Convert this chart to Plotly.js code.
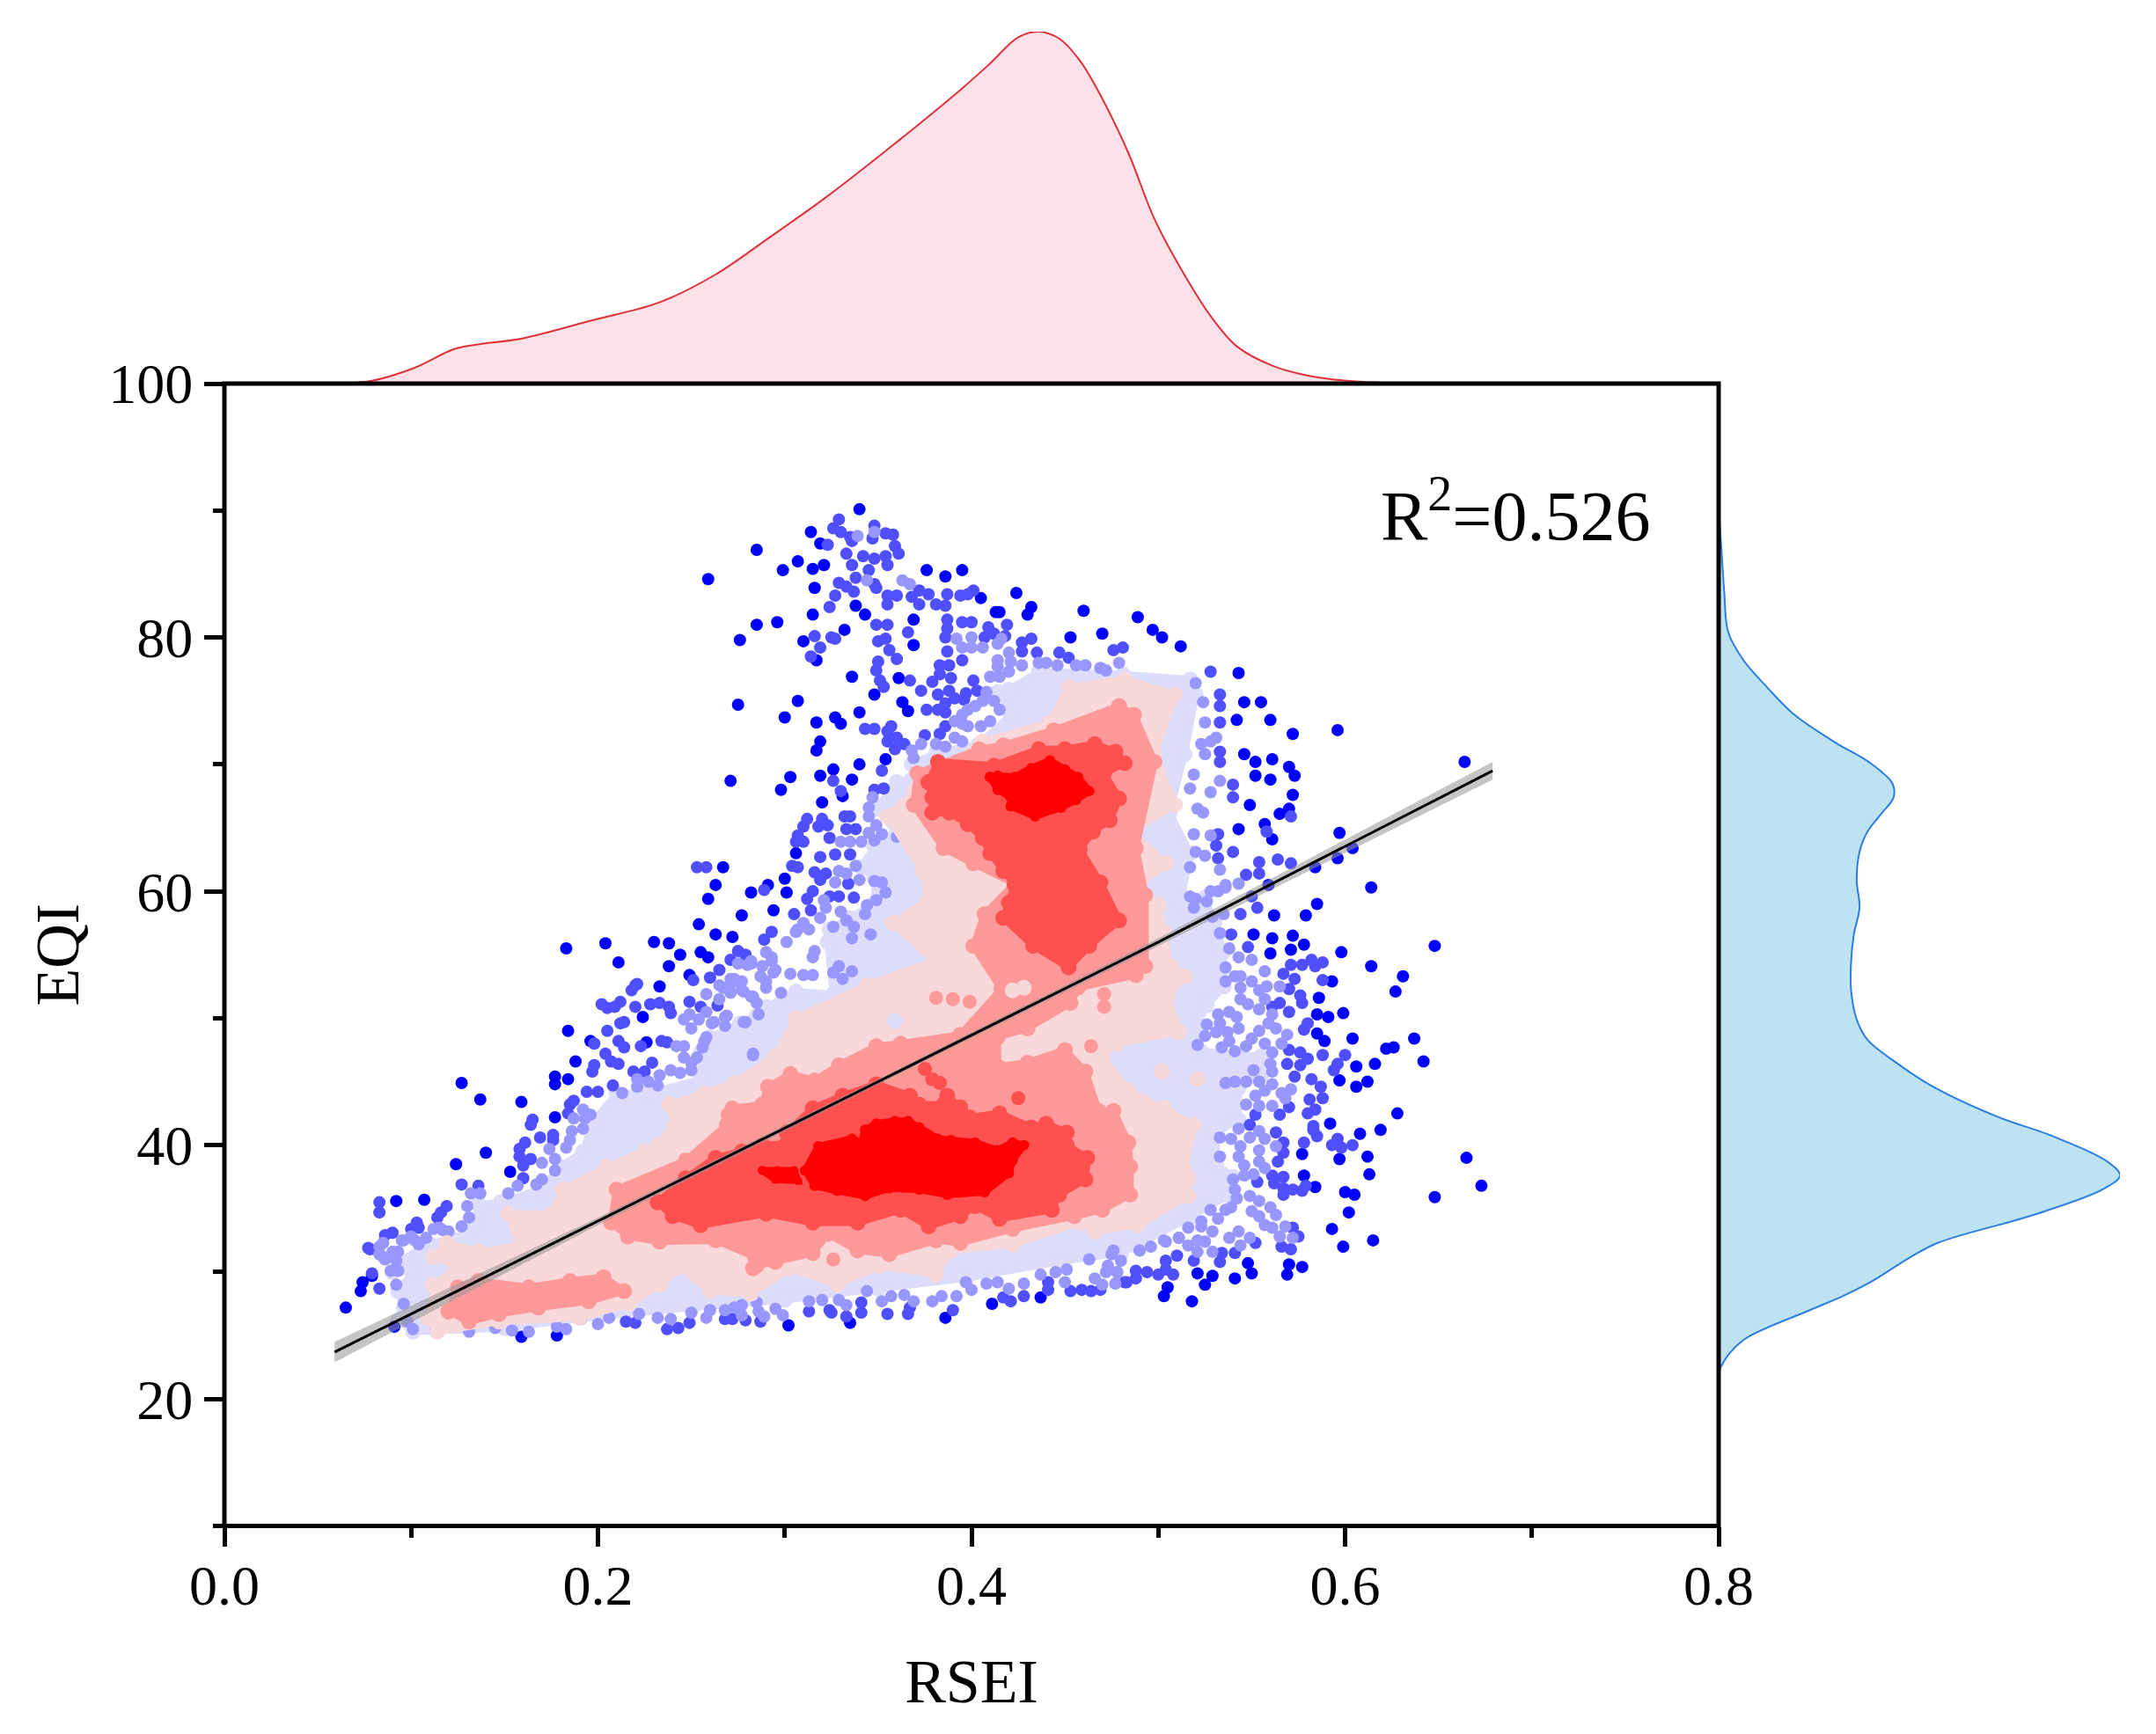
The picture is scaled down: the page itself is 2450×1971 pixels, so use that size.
<!DOCTYPE html>
<html><head><meta charset="utf-8">
<script src="https://cdn.plot.ly/plotly-3.0.0.min.js"></script>
<style>html,body{margin:0;padding:0;background:#fff}</style></head>
<body><div id="chart" style="width:2450px;height:1971px"></div>
<script>
// Tick values
const xTicks=[0,0.2,0.4,0.6,0.8], xMinor=[0.1,0.3,0.5,0.7];
const yTicks=[20,40,60,80,100], yMinor=[10,30,50,70,90];

// Individual sparse points [RSEI, EQI], density level 1 (lowest)
const level1=[[.340,90.1],[.314,88.3],[.285,86.9],[.319,87.4],[.259,84.6],[.299,85.3],[.307,86.0],[.315,85.4],[.321,85.7],[.316,83.9],[.376,85.3],[.386,84.8],[.395,85.3],[.405,83.1],[.424,83.5],[.432,82.4],[.430,81.8],[.413,82.0],[.415,82.0],[.460,82.1],[.453,80.0],[.470,80.3],[.338,82.5],[.343,81.8],[.315,81.8],[.296,81.2],[.285,81.0],[.276,79.8],[.310,79.7],[.332,80.6],[.369,81.4],[.369,79.4],[.317,78.2],[.336,76.9],[.361,76.8],[.348,75.5],[.363,74.9],[.366,74.2],[.275,74.7],[.307,75.0],[.300,73.7],[.317,73.3],[.327,73.7],[.330,73.2],[.340,74.1],[.319,71.8],[.317,71.1],[.354,70.4],[.340,70.0],[.326,69.6],[.319,69.1],[.303,69.0],[.271,68.7],[.298,68.0],[.336,68.8],[.331,67.5],[.320,67.0],[.306,63.0],[.267,61.9],[.300,61.0],[.291,60.5],[.263,60.5],[.282,59.9],[.301,59.9],[.259,59.4],[.294,58.5],[.277,58.1],[.254,57.4],
[.183,55.5],[.204,55.9],[.211,54.4],[.230,56.0],[.238,55.9],[.244,55.0],[.238,54.1],[.263,56.6],[.272,56.4],[.255,55.2],[.259,54.8],[.249,53.4],[.233,52.5],[.224,50.1],[.184,49.0],[.196,48.2],[.226,48.1],[.188,46.6],[.177,45.4],[.177,44.8],[.184,45.2],[.127,44.9],[.137,43.6],[.159,43.4],[.177,42.2],[.140,39.4],[.124,38.5],[.153,37.9],[.092,35.6],[.107,35.7],
[.614,60.3],[.585,59.0],[.579,58.1],[.562,58.1],[.559,60.5],[.551,56.6],[.561,56.3],[.572,56.5],[.578,55.8],[.571,55.4],[.560,55.1],[.598,55.2],[.648,55.7],[.614,54.1],[.631,53.3],[.593,52.9],[.627,52.1],[.586,51.6],[.585,50.3],[.591,50.1],[.599,50.4],[.585,48.8],[.589,48.2],[.604,48.4],[.637,48.4],[.622,47.6],[.626,47.7],[.642,46.6],[.606,46.2],[.616,46.4],[.597,45.1],[.612,45.0],[.606,44.6],[.628,42.5],[.592,41.7],[.619,41.2],[.608,40.9],[.577,39.3],[.612,39.1],[.597,38.9],[.665,39.0],[.613,37.7],[.578,37.6],[.584,36.7],[.600,36.3],[.605,36.1],[.673,36.8],[.648,35.9],[.602,34.7],[.593,33.4],[.615,32.5],[.599,32.0],[.577,30.4],[.570,30.6],[.569,29.8],[.550,29.9],[.548,30.7],[.541,29.5],[.529,29.7],[.521,29.9],[.525,29.0],[.505,28.8],[.503,28.1],[.518,27.7],
[.302,25.8],[.335,26.0],[.386,26.4],[.411,27.5],[.437,28.0],[.065,27.2],[.091,25.7],[.073,28.5],[.074,29.2],[.079,29.7],[.178,25.0],[.159,24.9],
[.546,74.9],[.555,74.9],[.542,73.5],[.560,73.5],[.572,72.4],[.596,72.7],[.546,70.8],[.552,70.2],[.561,70.4],[.570,69.8],[.573,69.1],[.552,69.1],[.560,68.8],[.572,67.6],[.549,66.8],[.570,66.5],[.565,66.1],[.557,65.3],[.543,64.9],[.561,64.1],[.597,64.6],[.604,63.4],[.596,62.6],[.584,61.9],[.664,70.2],[.543,77.2],[.512,79.3],[.502,80.0],[.497,80.6],[.489,81.6]];

// Density level 2
const level2=[[.329,89.3],[.326,88.6],[.330,88.3],[.348,88.8],[.336,87.6],[.335,87.9],[.347,87.8],[.354,88.2],[.358,88.1],[.323,87.3],[.359,87.2],[.361,86.6],[.342,86.4],[.348,86.2],[.354,86.4],[.355,85.7],[.333,86.6],[.336,85.7],[.345,85.3],[.338,84.7],[.329,84.3],[.333,84.0],[.337,83.6],[.327,83.3],[.324,82.4],[.348,84.2],[.349,83.9],[.355,83.3],[.360,83.3],[.355,82.6],[.368,83.2],[.372,83.7],[.372,82.6],[.377,83.4],[.381,82.6],[.386,82.5],[.387,83.4],[.394,83.3],[.398,83.4],[.401,83.7],[.349,81],[.355,81],[.350,79.7],[.354,79.9],[.366,80.4],[.387,81.4],[.387,80.7],[.386,80],[.395,81.2],[.400,81.2],[.409,80.8],[.407,80],[.412,80.3],[.419,81],[.418,80.1],[.387,78.9],[.395,78.2],[.356,79],[.360,78.3],[.350,78.1],[.349,77.4],[.351,76.6],[.353,76.1],[.383,77.8],[.388,77.8],[.383,77.1],[.379,76.5],[.373,75.8],[.389,76.8],[.367,76.6],[.401,76.6],[.403,75.8],[.382,75.5],[.388,75.8],[.386,74.8],[.397,75.6],[.396,75.1],[.391,75.2],[.376,74.3],[.382,74.3],[.386,74.1],[.386,73],[.383,72.4],[.375,72.3],[.357,73],[.355,72.6],[.348,72.8],[.343,72.8],[.355,71.8],[.360,72.1],[.364,71.6],[.359,71.2],[.316,80.1],[.319,79.2],[.314,78.5],[.325,80],[.327,79.9],[.427,79.6],[.432,79.9],[.427,78.9],[.435,78.8],[.447,78.8],[.452,78.4],[.476,79],[.481,79.2],[.352,69.5],[.348,68],[.353,68.1],[.326,68.7],[.330,67.9],[.312,65.7],[.310,65.1],[.320,65.7],[.318,65.1],[.323,65.2],[.307,64.4],[.306,63.9],[.310,63.9],[.324,64.2],[.332,65.9],[.335,65.9],[.333,64.9],[.338,64.9],[.319,62.7],[.327,62.9],[.335,62.9],[.253,61.9],[.258,61.9],[.304,62],[.307,61.9],[.316,61.5],[.322,61.4],[.319,60.9],[.289,60.1],[.315,60],[.312,59.4],[.324,59.6],[.329,59.6],[.337,59.5],[.314,58.5],[.305,58.2],[.334,60.6],
[.220,52.6],[.218,52.2],[.221,52.7],[.202,51.1],[.205,50.8],[.209,50.9],[.212,51.3],[.220,50.9],[.228,51.1],[.233,51.2],[.238,50.9],[.239,50.4],[.249,51.3],[.255,50.9],[.264,51],[.214,49.7],[.212,49.6],[.205,49],[.198,48],[.211,48.2],[.214,47.7],[.223,47.8],[.234,48.2],[.237,48.1],[.204,47.2],[.207,46.6],[.211,46.4],[.198,46.3],[.197,45.8],[.229,46.5],[.219,45.8],[.225,45.8],[.208,44.7],[.194,44.2],[.200,44.2],[.187,43.5],[.185,43.2],[.184,42.5],[.165,42],[.164,41.6],[.176,40.8],[.176,40.4],[.169,40.6],[.161,40.2],[.158,39.7],[.158,39.1],[.164,38.9],[.160,38.4],[.160,37.4],[.127,36.9],[.136,36.8],[.083,35.5],[.083,34.7],[.119,35.2],[.116,34.7],[.114,34.3],[.103,33.9],[.104,33.5],[.100,33.4],[.090,33.1],[.086,32.9],[.077,31.9],[.079,29.9],[.289,56.2],[.293,56.8],[.271,54.6],[.275,55.3],[.279,55],[.251,53],[.260,53.2],[.265,53.8],
[.553,58.7],[.544,58.2],[.550,59.6],[.539,56.6],[.548,55.6],[.571,54.2],[.567,53.5],[.573,53.1],[.577,54.2],[.582,54.6],[.584,54.1],[.588,54.4],[.588,53],[.570,52.3],[.576,51.8],[.577,51.2],[.565,51.2],[.561,50.9],[.570,50.5],[.580,49.6],[.578,49.1],[.570,47.5],[.576,47.3],[.580,46.8],[.576,46.3],[.569,46.4],[.588,47.1],[.600,47.1],[.596,46.4],[.594,45.9],[.573,45.4],[.582,45.2],[.587,44.6],[.588,43.7],[.581,43.6],[.584,42.8],[.580,42.5],[.570,43],[.565,42.4],[.552,42.4],[.549,41.6],[.563,41],[.583,41.5],[.583,41.2],[.585,40.7],[.578,40.2],[.567,40.2],[.567,39.4],[.596,40.5],[.593,40],[.598,39.8],[.604,40],[.564,38.7],[.567,37.5],[.561,37.6],[.562,37],[.553,37.1],[.579,36.8],[.577,36.4],[.572,36.5],[.567,36.6],[.567,36.1],[.572,33.5],[.575,32.8],[.552,32.3],[.566,32],[.571,31.8],[.541,31.5],[.534,31.5],[.533,30.8],[.519,30.9],[.510,31.3],[.504,30.9],[.504,30.2],[.508,29.8],[.500,29.8],[.494,30],[.488,30.1],[.488,29.5],[.483,29.2],
[.268,26.3],[.272,26.3],[.279,26.2],[.287,26.1],[.313,26.9],[.324,27],[.325,26.8],[.333,26.5],[.341,26.8],[.355,26.7],[.366,26.7],[.367,27.2],[.341,27.6],[.390,27],[.417,28],[.421,27.7],[.428,28.1],[.441,29.2],[.441,28.6],[.453,28.5],[.459,28.6],[.464,28.5],[.469,28.6],[.482,29.2],[.237,25.5],[.243,25.6],[.249,26],[.215,26.1],[.220,26],[.083,28.7],[.078,31.8],
[.533,75.5],[.533,74.6],[.533,73.3],[.533,71],[.533,70.2],[.540,68.4],[.540,67.4],[.532,64.5],[.531,63.6],[.540,63.1],[.532,62.6],[.554,62.3],[.564,62.5],[.571,62.2],[.571,65.9],[.558,64.7],[.547,61.3],[.554,61.4],[.528,77.3]];

// Density level 3
const level3=[[.339,88.0],[.348,88.3],[.344,84.5],[.363,84.5],[.367,84.2],[.392,79.9],[.400,80],[.395,79.2],[.400,79.2],[.406,79.2],[.414,79.5],[.416,79.9],[.420,78.8],[.414,78.2],[.414,77.7],[.421,78.1],[.420,77.3],[.415,76.9],[.410,76.9],[.427,77.8],[.436,78],[.440,78],[.446,77.8],[.456,77.8],[.461,77.8],[.469,77.6],[.472,77.4],[.479,78],[.408,75.7],[.406,75],[.412,75],[.415,74.3],[.410,73.4],[.405,73],[.395,73.9],[.398,74.3],[.402,74.6],[.395,73.2],[.398,73],[.391,73.4],[.391,72.1],[.395,71.8],[.381,71.6],[.386,71.4],[.373,71.6],[.368,71.1],[.369,70.5],[.347,67.4],[.345,66.6],[.345,65.9],[.349,65.2],[.352,64.5],[.348,64],[.341,63.9],[.335,63.9],[.330,63.9],[.345,64.6],[.360,64.3],[.338,62],[.329,61.6],[.327,60.7],[.333,61.4],[.340,60.9],[.348,60.8],[.352,60.7],[.354,59.9],[.349,59.3],[.344,58.9],[.343,58.2],[.321,59.3],[.322,58.7],[.330,58.4],[.333,57.7],[.319,57.9],[.310,57.5],[.307,57],[.337,57.2],[.326,57.2],
[.192,42.8],[.196,42.4],[.193,42.1],[.187,42.1],[.192,41.3],[.186,41.1],[.185,40.4],[.183,39.8],[.174,39.7],[.177,38.9],[.170,38.6],[.177,38],[.170,37.3],[.167,36.9],[.157,36.8],[.152,36.2],[.137,36.2],[.132,36.2],[.130,35.2],[.131,34.3],[.127,33.6],[.120,33.2],[.115,33.5],[.108,32.7],[.104,32.2],[.100,32.8],[.095,32.5],[.085,32.3],[.083,31.4],[.090,31.6],[.093,31.6],[.086,31],[.092,30.9],[.089,30.1],[.246,49.9],[.249,50.3],[.254,49.9],[.250,49.2],[.258,50.5],[.261,49.6],[.268,49.4],[.269,50.2],[.257,48.2],[.256,47.7],[.242,47.8],[.246,47.8],[.246,46.9],[.250,46.5],[.253,46.9],[.239,45.9],[.244,45.7],[.250,45.9],[.221,45.2],[.221,44.6],[.227,45],[.232,44.7],[.233,45.5],[.213,44.1],[.258,51.9],[.265,52.6],[.271,53.1],[.277,52.9],[.271,52],[.277,52.2],[.282,51.7],[.285,51.2],[.265,51.5],[.280,54.2],[.282,54.5],[.290,52.4],[.287,53.3],[.293,54.5],[.290,55.2],[.294,53.6],[.286,50.3],[.279,49.7],[.283,47.1],
[.275,54.3],[.282,54.3],[.272,52.8],[.278,52.1],[.283,51.7],[.290,52.9],[.288,54.1],[.293,54.8],[.295,53.8],[.298,52],[.303,53.5],[.310,53.4],[.315,53.4],[.316,55.3],[.315,54.8],[.301,56],[.306,56.8],[.313,57],[.329,54.1],[.336,53.7],[.326,53.6],[.331,53.1],[.336,56.3],[.346,56.6],[.273,53.1],[.267,52.4],[.262,49.7],[.268,50.1],[.278,49.7],[.258,48.5],
[.260,27],[.258,26.4],[.268,27],[.273,27.2],[.277,27.4],[.277,26.6],[.285,27.6],[.286,26.9],[.289,26.5],[.295,27.1],[.299,26.6],[.313,27.7],[.320,27.8],[.329,27.8],[.333,27.4],[.344,28.5],[.352,27.7],[.357,28.1],[.364,28.2],[.369,27.7],[.379,27.7],[.384,28.1],[.392,28.1],[.397,29.2],[.400,28.6],[.408,29.1],[.414,29.2],[.420,28.7],[.428,29.1],[.437,29.8],[.445,30],[.451,30.2],[.450,29.2],[.463,31],[.466,29.5],[.473,30.5],[.476,31.7],[.478,30],[.490,31.7],[.503,32.5],[.511,32.7],
[.517,59.6],[.519,58.7],[.526,59.2],[.532,60],[.536,60.5],[.535,58.2],[.529,58],[.533,56.7],[.538,55.5],[.543,54.8],[.550,54.6],[.536,54],[.541,53.3],[.544,53.3],[.557,53.7],[.550,52.9],[.536,52.9],[.544,52.4],[.554,52.2],[.558,52.5],[.565,52.5],[.557,51.5],[.544,51.5],[.548,51.1],[.554,50.7],[.561,50.3],[.559,49.6],[.563,49.2],[.569,48.7],[.566,48],[.532,50.3],[.538,50.5],[.542,50.1],[.533,49.6],[.543,49.2],[.526,49.5],[.531,48.9],[.537,48.9],[.525,48.6],[.521,47.9],[.538,48.2],[.534,47.7],[.541,47.4],[.554,49],[.550,48.4],[.547,47.8],[.557,48],[.561,47.3],[.560,46.4],[.561,45.8],[.536,44.9],[.541,45],[.547,45],[.551,45.9],[.554,45],[.561,44.8],[.552,43.9],[.557,44.3],[.566,44.1],[.571,44.4],[.547,43.2],[.554,43.1],[.561,43.1],[.568,43.7],[.543,41.3],[.539,40.5],[.533,40.6],[.549,40.6],[.554,41.1],[.557,40.5],[.544,39.9],[.554,39.6],[.563,39.9],[.533,39.1],[.543,39.1],[.554,38.7],[.546,38.4],[.557,38.2],[.546,37.6],[.551,37.7],[.540,37.3],[.541,36.5],[.542,35.8],[.539,35.1],[.549,36],[.554,35.6],[.550,34.8],[.554,34.4],[.560,35.1],[.563,34.5],[.557,33.7],[.561,33.5],[.568,33.6],[.565,32.8],[.572,32.7],[.549,32.7],[.543,33.2],[.538,32.7],[.544,32.1],[.528,34.9],[.532,34.2],[.523,34],[.536,34.9],[.529,33.2],[.523,33.6],[.516,33.5],[.521,32.5],[.525,32.4],[.511,32.7],[.504,32.4],[.496,32],[.490,31.7],[.516,32.1],[.521,31.6],[.529,31.6],[.475,31.4],[.480,30.9],[.472,30],[.478,30],[.477,29.1],[.470,29],
[.520,76.4],[.524,74.9],[.525,73.3],[.528,71.8],[.523,71.6],[.531,72.1],[.519,69.2],[.525,70.8],[.517,68.1],[.528,67.8],[.533,68.7],[.521,66.5],[.524,66.2],[.519,64.5],[.528,64.4],[.520,63.1],[.525,62.8],[.533,61.7],[.517,61.9],[.520,59.4],[.528,60],[.536,60.3],[.543,60.6],
[.083,32],[.090,31.4],[.093,30.1],[.092,29],[.096,27.5],[.098,26.1],[.101,25.5],[.113,25.3],[.131,25.3],[.145,25.6],[.154,25.4],[.163,25.3],[.178,25.7],[.183,25.5],[.191,26.3],[.200,25.9],[.206,26.4],[.222,26.7],[.232,26.4],[.239,26.3],[.250,26.8],[.117,33.3],[.112,33.4],[.102,32.5],[.096,32.5],[.085,31.2]];

// Density bands: outlines [RSEI, EQI]
const band4=[[.093,26.2],[.101,25.3],[.15,25.6],[.20,26.5],[.25,27.2],[.30,27.8],[.35,28.7],[.397,29.5],[.447,30.8],[.48,31.5],[.488,32.1],[.516,34.2],[.526,35.2],[.538,36],[.540,37.5],[.531,38.5],[.531,41],[.543,42],[.543,44.5],[.555,45.5],[.555,47],[.523,47.4],[.521,49.5],[.526,51],[.535,52.5],[.535,55.2],[.530,57.5],[.525,59.5],[.512,59.1],[.517,63],[.506,66.2],[.514,70.8],[.520,75.5],[.517,76.7],[.481,77.1],[.436,77.3],[.420,75.9],[.414,75.7],[.421,73.9],[.404,71.6],[.381,70.9],[.368,70],[.368,68.8],[.360,68.6],[.349,66.5],[.360,64.6],[.348,63.5],[.341,61.9],[.348,61],[.348,59.1],[.335,57.9],[.324,57],[.323,56],[.326,51.9],[.306,52.1],[.290,50.9],[.285,50.2],[.276,49.6],[.260,48.5],[.255,47.3],[.255,45.2],[.227,44.1],[.210,44.1],[.197,41.8],[.192,39.5],[.180,38.3],[.169,36.5],[.148,35.5],[.136,35.3],[.134,33.5],[.122,32.6],[.109,32.3],[.095,30.9],[.090,30],[.101,30.1],[.093,28.5],[.096,27.2]];
const band5=[[.109,26.4],[.114,25.3],[.147,26.1],[.190,26.4],[.217,27.5],[.233,29],[.244,30.4],[.260,28.5],[.282,28.3],[.303,30.3],[.328,29],[.351,30.5],[.381,29.8],[.389,31.7],[.422,32.2],[.458,33.9],[.466,33.2],[.489,33.7],[.516,36],[.516,37.4],[.514,38.1],[.519,41.6],[.503,42.9],[.484,44.3],[.470,47],[.478,48],[.511,48.9],[.505,51.7],[.514,53.3],[.506,54.2],[.503,56.8],[.500,58.9],[.488,60.3],[.504,62.2],[.485,64.7],[.509,66.8],[.498,70.8],[.509,75.5],[.482,76.7],[.452,76.1],[.442,73.3],[.406,71.8],[.369,67.8],[.355,65.9],[.374,61.6],[.377,59.4],[.358,57.5],[.380,54.5],[.344,52.6],[.306,50],[.295,47],[.273,44.9],[.257,44.1],[.238,43.2],[.241,41.6],[.232,40],[.225,39.5],[.205,38.3],[.181,36.5],[.175,34.6],[.152,34.6],[.158,32.1],[.136,31.6],[.119,32.3],[.112,31.2],[.125,30.4],[.112,29]];
const band6=[[.270,42.4],[.269,41.6],[.247,38.8],[.210,36.5],[.207,33.9],[.216,32.8],[.233,32.4],[.263,32.5],[.284,31.2],[.283,30.3],[.285,30.5],[.295,30.8],[.315,31.5],[.323,33],[.339,31.7],[.356,31.4],[.381,32.5],[.394,32.3],[.422,33.4],[.455,34.4],[.470,34.9],[.485,36.1],[.485,38.3],[.484,40.2],[.476,42.7],[.468,42.7],[.461,45.8],[.450,47.5],[.430,46.5],[.414,46.2],[.414,48.5],[.430,49.2],[.453,51.2],[.457,52.4],[.488,53.4],[.493,54.1],[.493,59.7],[.488,63.4],[.498,70.2],[.487,73.9],[.479,74.6],[.444,72.7],[.417,71.5],[.404,71.2],[.371,69.3],[.369,66.8],[.385,63.4],[.401,62.2],[.423,60.6],[.407,58.2],[.401,55.7],[.416,52.3],[.394,48.7],[.362,48],[.349,47.8],[.329,46.3],[.316,45.1],[.303,45.6],[.291,44.6],[.288,43.2],[.272,42.9]];
const band6Tail=[[.120,26.9],[.125,28.8],[.136,29.3],[.163,28.8],[.185,29.3],[.203,29.6],[.214,28.5],[.195,27.7],[.168,27.2],[.147,26.7],[.131,26.1]];
const band7=[[.232,35.5],[.240,34.4],[.255,33.7],[.290,34.6],[.315,33.9],[.339,33.9],[.362,34.9],[.377,33.6],[.394,34.4],[.402,35.2],[.415,34.2],[.443,34.9],[.447,36.1],[.461,37.3],[.462,39],[.451,40],[.451,41],[.440,41.7],[.432,41.4],[.415,42.5],[.399,42.2],[.394,43],[.387,43.9],[.385,43.2],[.372,43.2],[.367,43.9],[.349,44.8],[.331,43.9],[.315,42.9],[.301,41],[.301,40.1],[.288,40],[.277,39.5],[.263,39],[.247,37.4]];
const band7Upper=[[.377,68.6],[.379,67.4],[.379,66.2],[.388,66.2],[.398,65.3],[.406,64.2],[.410,63],[.417,61.6],[.423,60.5],[.420,59.1],[.417,57.9],[.433,55.7],[.452,54],[.463,55.7],[.479,57.7],[.469,60.7],[.458,63.3],[.465,64.7],[.474,65.6],[.479,67.3],[.471,69.3],[.482,70.1],[.477,71],[.466,71.6],[.450,71.2],[.436,71.2],[.412,69.9],[.382,70.2]];
const band8=[[.311,38],[.316,36.8],[.328,36.4],[.343,36],[.356,36.6],[.372,36.5],[.387,36.1],[.407,36.3],[.420,37.8],[.422,38.8],[.428,40],[.422,40.2],[.414,39.6],[.402,40.2],[.389,40.4],[.382,40.5],[.372,41.4],[.366,41.9],[.359,41.9],[.349,41.7],[.343,41.2],[.341,40.2],[.336,40.5],[.318,39.9]];
const band8Small=[[.288,38],[.296,38],[.305,38],[.307,37.2],[.295,37.3]];
const band8Upper=[[.410,69],[.414,68],[.421,67.4],[.421,66.7],[.434,65.9],[.448,66.6],[.456,67.2],[.463,67.9],[.457,69],[.450,69.6],[.442,70.3],[.432,69.7],[.423,69],[.414,69.1]];
const spots3=[[.283,47.2]];
const spots4=[[.359,49.8]];
const spots5=[[.521,45.2],[.502,45.8],[.422,52.2],[.428,52.4]];
const spots6=[[.326,31],[.381,51.6],[.390,51.5],[.399,51.3],[.471,51.9],[.471,50.9],[.464,47.8]];
const spots7=[[.425,43.7],[.375,46],[.379,45.2],[.383,44.9]];

// Regression
const fitX=[0.059,0.20,0.35,0.50,0.679];
const fitY=[23.7,34.0,45.0,56.0,69.5];
const fitHi=[24.5,34.3,45.2,56.3,70.2];
const fitLo=[22.9,33.7,44.8,55.7,68.8];
const r2Label='R<sup>2</sup>=0.526';

// Marginal densities (relative)
const topX=[.060,.079,.101,.123,.134,.160,.197,.233,.263,.292,.322,.358,.395,.410,.425,.436,.447,.458,.469,.484,.498,.513,.528,.542,.561,.579,.601,.638];
const topD=[0,.008,.043,.098,.110,.129,.180,.231,.310,.416,.529,.678,.839,.910,.984,1.0,.980,.918,.820,.655,.467,.318,.192,.106,.051,.024,.008,0];
const rightY=[90.1,86.9,83.6,80.4,78.2,76.1,73.9,71.7,70.1,68.5,67.4,66.1,64.7,63.1,60.9,58.7,56.6,54.4,52.2,49.9,48.3,46.4,44.7,42.2,40.8,38.7,37.6,36.5,34.5,32.3,31.1,29.2,28.1,27,24.8,23.6,22.2];
const rightD=[0,.007,.014,.024,.062,.120,.189,.292,.378,.433,.436,.405,.371,.351,.344,.351,.337,.330,.330,.344,.371,.447,.529,.698,.825,.969,1,.956,.784,.546,.474,.378,.309,.227,.069,.027,0];

const C={l1:'#0000ff',l2:'#4f4fff',l3:'#9797ff',l4:'#dcdcfb',l5:'#f8d8d8',l6:'#ff9999',l7:'#ff5050',l8:'#ff0000'};
const xs=a=>a.map(p=>p[0]), ys=a=>a.map(p=>p[1]);
const dots=(a,c,s)=>({type:'scatter',mode:'markers',x:xs(a),y:ys(a),marker:{size:s||14,color:c,line:{width:0}},hoverinfo:'skip'});
const poly=(a,c,s)=>({type:'scatter',mode:'lines+markers',x:xs(a).concat(a[0][0]),y:ys(a).concat(a[0][1]),fill:'toself',fillcolor:c,line:{color:c,width:8,shape:'linear'},marker:{size:s||18,color:c,line:{width:0}},hoverinfo:'skip'});

const traces=[
 poly(band4,C.l4),
 dots(level1,C.l1),dots(level2,C.l2),dots(level3,C.l3),dots(spots3,C.l3),
 poly(band5,C.l5),dots(spots4,C.l4,18),
 poly(band6,C.l6),poly(band6Tail,C.l6),dots(spots5,C.l5,18),dots(spots6,C.l6,16),
 poly(band7,C.l7),poly(band7Upper,C.l7),dots(spots7,C.l7,16),
 poly(band8,C.l8,12),poly(band8Small,C.l8,10),poly(band8Upper,C.l8,12),
 {type:'scatter',mode:'lines',x:fitX.concat(fitX.slice().reverse()),y:fitHi.concat(fitLo.slice().reverse()),fill:'toself',fillcolor:'rgba(150,150,150,0.55)',line:{width:0},hoverinfo:'skip'},
 {type:'scatter',mode:'lines',x:fitX,y:fitY,line:{color:'#000',width:3},hoverinfo:'skip'},
 {type:'scatter',mode:'lines',x:topX,y:topD,xaxis:'x',yaxis:'y2',fill:'tozeroy',fillcolor:'#fce2e8',line:{color:'#e0303a',width:2,shape:'spline'},hoverinfo:'skip'},
 {type:'scatter',mode:'lines',x:rightD,y:rightY,xaxis:'x2',yaxis:'y',fill:'tozerox',fillcolor:'#bde3f2',line:{color:'#2b7de0',width:2,shape:'spline'},hoverinfo:'skip'}
];

const W=2450,H=1971;
const font={family:'"Liberation Serif",serif',color:'#000'};
const axisBase={showgrid:false,zeroline:false,showline:false,ticks:'outside',ticklen:22,tickwidth:5,tickcolor:'#000',layer:'above traces',tickfont:Object.assign({size:64},font)};
const layout={
 width:W,height:H,margin:{l:0,r:0,t:0,b:0},paper_bgcolor:'#fff',plot_bgcolor:'rgba(0,0,0,0)',showlegend:false,font:font,
 xaxis:Object.assign({},axisBase,{domain:[255/W,1953/W],range:[0,0.8],tickmode:'array',tickvals:xTicks,ticktext:xTicks.map(v=>v.toFixed(1)),ticklabelstandoff:-10,
   minor:{tickmode:'array',tickvals:xMinor,ticks:'outside',ticklen:12,tickwidth:5,tickcolor:'#000'},
   title:{text:'RSEI',font:Object.assign({size:70},font),standoff:48},anchor:'y'}),
 yaxis:Object.assign({},axisBase,{domain:[1-1734.5/H,1-436/H],range:[10,100],tickmode:'array',tickvals:yTicks,
   minor:{tickmode:'array',tickvals:yMinor,ticks:'outside',ticklen:12,tickwidth:5,tickcolor:'#000'},
   title:{text:'EQI',font:Object.assign({size:70},font),standoff:10},anchor:'x'}),
 yaxis2:{domain:[1-436/H,1-36/H],range:[0,1],visible:false,anchor:'x',fixedrange:true},
 xaxis2:{domain:[1953/W,2409/W],range:[0,1],visible:false,anchor:'y',fixedrange:true},
 shapes:[{type:'rect',xref:'paper',yref:'paper',x0:255/W,x1:1953/W,y0:1-1734.5/H,y1:1-436/H,line:{color:'#000',width:5},fillcolor:'rgba(0,0,0,0)',layer:'above'}],
 annotations:[{xref:'x',yref:'y',x:0.618,y:90,xanchor:'left',yanchor:'middle',text:r2Label,showarrow:false,font:Object.assign({size:80},font)}]
};
Plotly.newPlot('chart',traces,layout,{staticPlot:true,displayModeBar:false});
</script></body></html>
